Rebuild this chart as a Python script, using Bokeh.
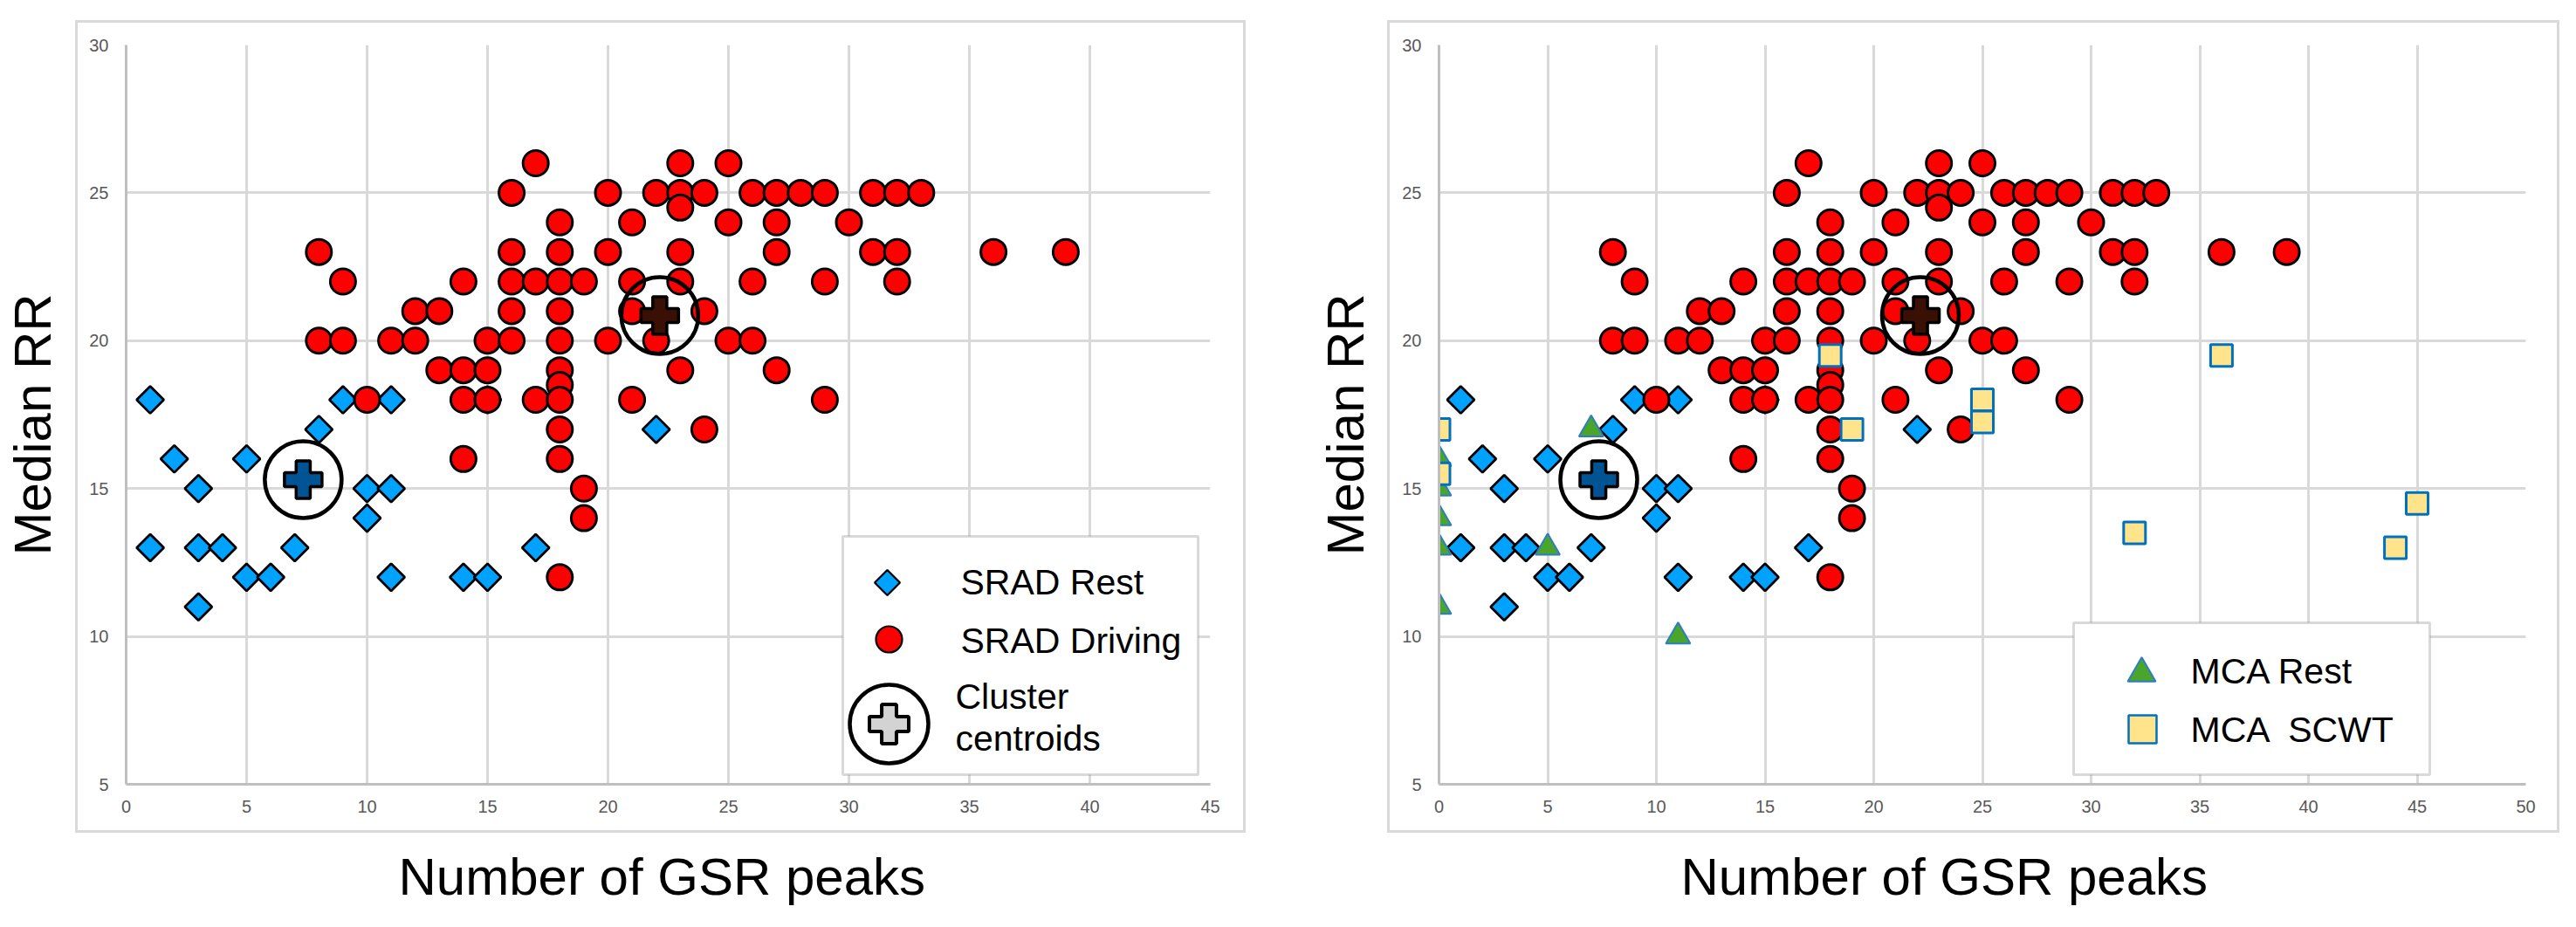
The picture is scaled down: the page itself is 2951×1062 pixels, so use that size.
import math
from bokeh.plotting import figure
from bokeh.models import Range1d, FixedTicker, Label, BoxAnnotation, Title
from bokeh.layouts import row
from bokeh.embed import file_html
from bokeh.resources import INLINE

# ---------------- data ----------------
srad_rest_x = [1, 1, 2, 3, 3, 3, 4, 5, 5, 6, 7, 8, 9, 10, 10, 11, 11, 11, 14, 15, 15, 17, 22]
srad_rest_y = [18, 13, 16, 15, 13, 11, 13, 16, 12, 12, 13, 17, 18, 15, 14, 18, 15, 12, 12, 12, 18, 13, 17]

srad_driving_x = [17, 23, 25,
                  16, 20, 22, 23, 24, 26, 27, 28, 29, 31, 32, 33,
                  23,
                  18, 21, 25, 27, 30,
                  8, 16, 18, 20, 23, 27, 31, 32, 36, 39,
                  9, 14, 16, 17, 18, 19, 21, 23, 26, 29, 32,
                  12, 13, 16, 18, 21, 24,
                  8, 9, 11, 12, 15, 16, 18, 20, 22, 25, 26,
                  13, 14, 15, 18, 23, 27,
                  18,
                  10, 14, 15, 17, 18, 21, 29,
                  18, 24,
                  14, 18,
                  19,
                  19,
                  18]
srad_driving_y = [26, 26, 26,
                  25, 25, 25, 25, 25, 25, 25, 25, 25, 25, 25, 25,
                  24.5,
                  24, 24, 24, 24, 24,
                  23, 23, 23, 23, 23, 23, 23, 23, 23, 23,
                  22, 22, 22, 22, 22, 22, 22, 22, 22, 22, 22,
                  21, 21, 21, 21, 21, 21,
                  20, 20, 20, 20, 20, 20, 20, 20, 20, 20, 20,
                  19, 19, 19, 19, 19, 19,
                  18.5,
                  18, 18, 18, 18, 18, 18, 18,
                  17, 17,
                  16, 16,
                  15,
                  14,
                  12]

centroid_x = [7.35, 22.15]
centroid_y = [15.3, 20.85]

mca_rest_x = [0, 0, 0, 0, 0, 5, 7, 11]
mca_rest_y = [16, 15, 14, 13, 11, 13, 17, 10]

mca_scwt_x = [0, 0, 18, 19, 25, 25, 32, 36, 44, 45]
mca_scwt_y = [17, 15.5, 19.5, 17, 18, 17.25, 13.5, 19.5, 13, 14.5]

x_ticks_left = [0, 5, 10, 15, 20, 25, 30, 35, 40, 45]
x_ticks_right = [0, 5, 10, 15, 20, 25, 30, 35, 40, 45, 50]
y_ticks = [5, 10, 15, 20, 25, 30]

x_title = "Number of GSR peaks"
y_title = "Median RR"
legend_left_labels = ["SRAD Rest", "SRAD Driving", "Cluster", "centroids"]
legend_right_labels = ["MCA Rest", "MCA \u00a0SCWT"]

# ---------------- styles ----------------
FONT = "Liberation Sans"
C_REST = "#00A2FF"
C_DRIVE = "#FF0000"
C_CENTROID = ["#005493", "#3B1004"]
C_MCA_REST = "#4AA52D"
C_MCA_REST_LINE = "#2E7CC4"
C_SCWT = "#FFE48C"
C_SCWT_LINE = "#0070C0"
GRID = "#D9D9D9"
AXIS = "#BFBFBF"

FRAME_H = 847
TOP, BOTTOM = 51, 148
HAS_PAD = "padding" in Title.properties()


def box_css(x0, y0, x1, y1, lw=3, color=GRID):
    g = "linear-gradient({0},{0})".format(color)
    w = x1 - x0 + lw
    h = y1 - y0 + lw
    return {
        "background-image": ", ".join([g, g, g, g]),
        "background-size": "{w}px {lw}px, {w}px {lw}px, {lw}px {h}px, {lw}px {h}px".format(w=w, h=h, lw=lw),
        "background-position": "{x0}px {y0}px, {x0}px {y1}px, {x0}px {y0}px, {x1}px {y0}px".format(
            x0=x0, y0=y0, x1=x1, y1=y1),
        "background-repeat": "no-repeat",
    }


def make_panel(x_end, x_ticks, frame_w, b_left, b_right, xtitle_off, box):
    p = figure(width=b_left + frame_w + b_right, height=TOP + FRAME_H + BOTTOM,
               x_range=Range1d(0, x_end), y_range=Range1d(5, 30),
               output_backend="svg", toolbar_location=None,
               min_border_left=b_left, min_border_right=b_right,
               min_border_top=TOP, min_border_bottom=BOTTOM,
               styles=box_css(*box))
    p.outline_line_color = None
    p.background_fill_color = "white"
    p.border_fill_color = None
    xt = FixedTicker(ticks=x_ticks)
    yt = FixedTicker(ticks=y_ticks)
    p.xaxis.ticker = xt
    p.yaxis.ticker = yt
    p.xgrid.ticker = xt
    p.ygrid.ticker = yt
    for g in (p.xgrid, p.ygrid):
        g.grid_line_color = GRID
        g.grid_line_width = 3
    for ax in (p.xaxis[0], p.yaxis[0]):
        ax.axis_line_color = AXIS
        ax.axis_line_width = 3
        ax.major_tick_line_color = None
        ax.minor_tick_line_color = None
        ax.major_tick_out = 0
        ax.major_tick_in = 0
        ax.minor_tick_out = 0
        ax.minor_tick_in = 0
        ax.major_label_text_font = FONT
        ax.major_label_text_font_size = "20px"
        ax.major_label_text_color = "#595959"
        ax.axis_label_text_font = FONT
        ax.axis_label_text_font_size = "60px"
        ax.axis_label_text_font_style = "normal"
        ax.axis_label_text_color = "black"
    p.xaxis.major_label_standoff = 18
    p.yaxis.major_label_standoff = 20

    if HAS_PAD:
        p.add_layout(Title(text=x_title, align="left", vertical_align="top",
                           offset=xtitle_off, standoff=0,
                           padding=dict(left=0, right=0, top=37, bottom=0),
                           text_font=FONT, text_font_size="60px", text_font_style="normal",
                           text_color="black"), "below")
        p.add_layout(Title(text=y_title, align="left", vertical_align="bottom",
                           offset=262, standoff=0,
                           padding=dict(left=0, right=0, top=0, bottom=29),
                           text_font=FONT, text_font_size="60px", text_font_style="normal",
                           text_color="black"), "left")
    else:
        p.xaxis.axis_label = x_title
        p.xaxis.axis_label_standoff = 37
        p.yaxis.axis_label = y_title
        p.yaxis.axis_label_standoff = 29
    return p


def to_data(p, frame_w, rx, ry):
    xr, yr = p.x_range, p.y_range
    return (xr.start + rx / frame_w * (xr.end - xr.start),
            yr.start + ry / FRAME_H * (yr.end - yr.start))


def draw_srad(p):
    p.scatter(srad_rest_x, srad_rest_y, marker="square", size=22, angle=math.pi / 4,
              fill_color=C_REST, line_color="black", line_width=2.8)
    p.scatter(srad_driving_x, srad_driving_y, marker="circle", size=29,
              fill_color=C_DRIVE, line_color="black", line_width=3)
    p.scatter(centroid_x, centroid_y, marker="circle", size=88, fill_color=None,
              line_color="black", line_width=4.5)
    p.scatter(centroid_x, centroid_y, marker="plus", size=43, fill_color=C_CENTROID,
              line_color="black", line_width=3.5)


def legend_text(p, text, x, y):
    p.add_layout(Label(x=x, y=y, x_units="screen", y_units="screen", text=text,
                       text_font=FONT, text_font_size="41px", text_align="left",
                       text_baseline="middle", text_color="black", level="overlay"))


# ---------------- left panel ----------------
FW_L = 1242
left = make_panel(45, x_ticks_left, FW_L, 144, 114, 312, (86, 23, 1424, 951))
draw_srad(left)
left.add_layout(BoxAnnotation(left=821, right=1228, bottom=11, top=284,
                              left_units="screen", right_units="screen",
                              bottom_units="screen", top_units="screen",
                              fill_color="white", fill_alpha=1, line_color="#808080",
                              line_width=3, level="annotation"))
lx, ly = to_data(left, FW_L, 872, 231)
left.scatter([lx], [ly], marker="square", size=20.5, angle=math.pi / 4, fill_color=C_REST,
             line_color="black", line_width=2.2, level="overlay")
lx, ly = to_data(left, FW_L, 874, 166)
left.scatter([lx], [ly], marker="circle", size=30, fill_color=C_DRIVE,
             line_color="black", line_width=2.2, level="overlay")
lx, ly = to_data(left, FW_L, 874, 69)
left.scatter([lx], [ly], marker="circle", size=90, fill_color=None,
             line_color="black", line_width=4.5, level="overlay")
left.scatter([lx], [ly], marker="plus", size=45, fill_color="#D3D3D3",
             line_color="black", line_width=4, level="overlay")
legend_text(left, legend_left_labels[0], 956, 232)
legend_text(left, legend_left_labels[1], 956, 165)
legend_text(left, legend_left_labels[2], 950, 101)
legend_text(left, legend_left_labels[3], 950, 53)

# ---------------- right panel ----------------
FW_R = 1245
right = make_panel(50, x_ticks_right, FW_R, 148, 42, 277, (89, 23, 1429, 951))
draw_srad(right)
right.scatter(mca_rest_x, mca_rest_y, marker="triangle", size=28, fill_color=C_MCA_REST,
              line_color=C_MCA_REST_LINE, line_width=2)
right.scatter(mca_scwt_x, mca_scwt_y, marker="square", size=25, fill_color=C_SCWT,
              line_color=C_SCWT_LINE, line_width=3)
right.add_layout(BoxAnnotation(left=727, right=1135, bottom=11, top=185,
                               left_units="screen", right_units="screen",
                               bottom_units="screen", top_units="screen",
                               fill_color="white", fill_alpha=1, line_color="#808080",
                               line_width=3, level="annotation"))
rx, ry = to_data(right, FW_R, 805, 127)
right.scatter([rx], [ry], marker="triangle", size=32, fill_color=C_MCA_REST,
              line_color=C_MCA_REST_LINE, line_width=2, level="overlay")
rx, ry = to_data(right, FW_R, 806, 63)
right.scatter([rx], [ry], marker="square", size=32, fill_color=C_SCWT,
              line_color=C_SCWT_LINE, line_width=2.5, level="overlay")
legend_text(right, legend_right_labels[0], 861, 130)
legend_text(right, legend_right_labels[1], 861, 63)

layout = row(left, right)
open("out.html", "w").write(file_html(layout, INLINE))
